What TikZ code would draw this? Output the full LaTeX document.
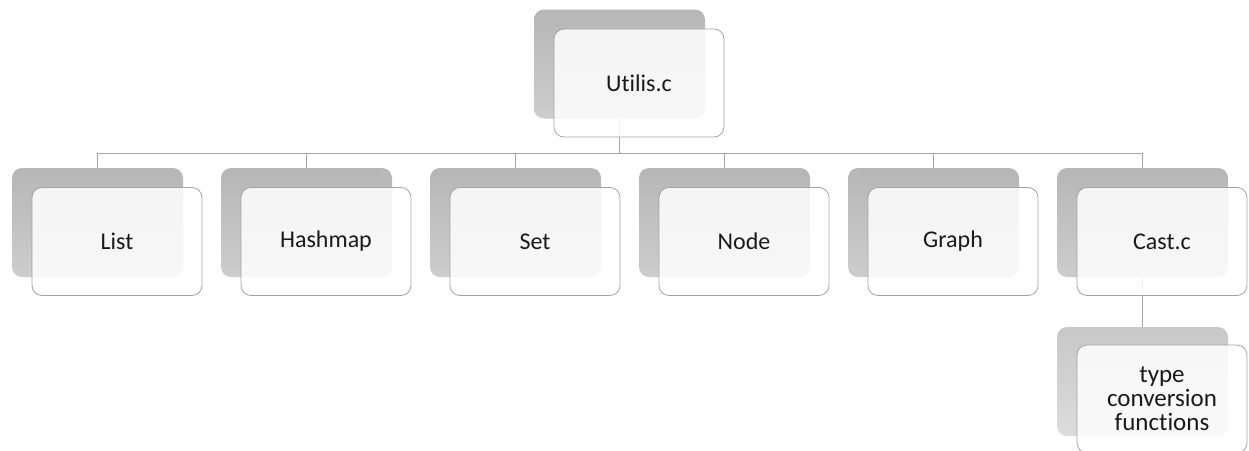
\documentclass[tikz,border=0pt]{standalone}
\usepackage{fontspec}
\setmainfont{Carlito}[Ligatures={NoCommon}]
\usetikzlibrary{positioning}
\definecolor{lineg}{HTML}{A6A6A6}
\definecolor{boxg}{HTML}{A3A3A3}
\definecolor{shtop}{HTML}{B6B6B6}
\definecolor{shbot}{HTML}{CDCDCD}
\definecolor{shtopl}{HTML}{C8C8C8}
\definecolor{shbotl}{HTML}{DCDCDC}
\definecolor{txt}{HTML}{1A1A1A}
\tikzset{
  shadowbox/.style={rectangle, rounded corners=10pt, minimum width=171pt, minimum height=109pt, inner sep=0pt, top color=shtop, bottom color=shbot, draw=none},
  shadowlight/.style={shadowbox, top color=shtopl, bottom color=shbotl},
  frontbox/.style={rectangle, rounded corners=10pt, minimum width=170pt, minimum height=108pt, inner sep=0pt, draw=boxg, line width=0.8pt, fill=white, fill opacity=0.85, text opacity=1, text=txt, font=\fontsize{24}{24}\selectfont, align=center},
  conn/.style={draw=lineg, line width=0.8pt}
}
\begin{document}
\begin{tikzpicture}[x=1pt,y=-1pt]
\useasboundingbox (0,0) rectangle (1249,450);
\begin{scope}
\clip (0,0) rectangle (1249,450);
% shadows
\node[shadowbox] (sU) at (619.5,64) {};
\node[shadowbox] (s1) at (97.5,222.5) {};
\node[shadowbox] (s2) at (306.5,222.5) {};
\node[shadowbox] (s3) at (515.5,222.5) {};
\node[shadowbox] (s4) at (724.5,222.5) {};
\node[shadowbox] (s5) at (933.5,222.5) {};
\node[shadowbox] (s6) at (1142.5,222.5) {};
\node[shadowlight] (s7) at (1142.5,381.5) {};
% connectors
\coordinate (bus) at (0,153);
\draw[conn] (sU.south) -- (sU.south |- bus);
\draw[conn] (s1.north) |- (bus -| s6.north) -- (s6.north);
\foreach \i in {2,3,4,5} {
  \draw[conn] (s\i.north) -- (s\i.north |- bus);
}
\draw[conn] (s6.south) -- (s7.north);
% front boxes
\node[frontbox] (U) at (639,83) {Utilis.c};
\node[frontbox] (c1) at (117,241.5) {List};
\node[frontbox] (c2) at (326,241.5) {Hashmap};
\node[frontbox] (c3) at (535,241.5) {Set};
\node[frontbox] (c4) at (744,241.5) {Node};
\node[frontbox] (c5) at (953,241.5) {Graph};
\node[frontbox] (c6) at (1162,241.5) {Cast.c};
\node[frontbox, font=\fontsize{25}{24}\selectfont] (c7) at (1162,399) {type\\conversion\\functions};
\end{scope}
\end{tikzpicture}
\end{document}
